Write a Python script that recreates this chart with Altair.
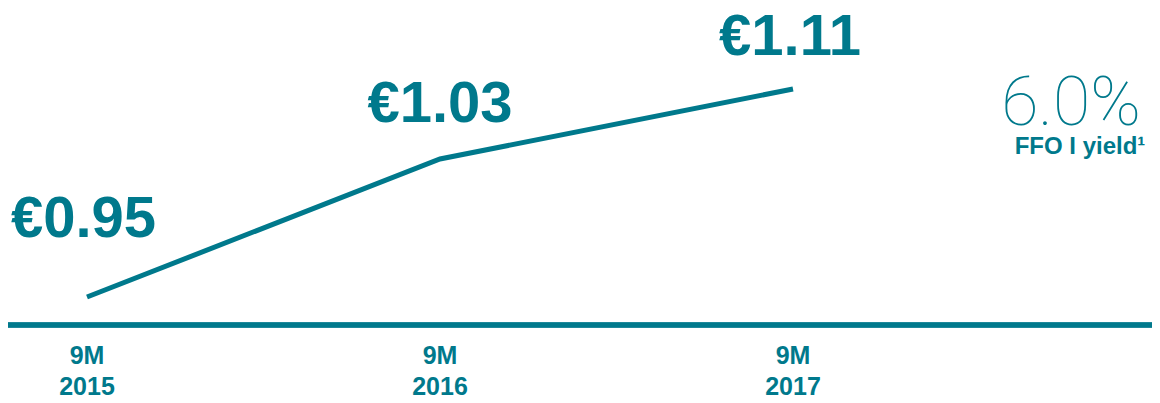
import altair as alt
import pandas as pd

periods = ["9M 2015", "9M 2016", "9M 2017"]
period_lines = [["9M", "2015"], ["9M", "2016"], ["9M", "2017"]]
ffo = [0.95, 1.03, 1.11]
value_labels = ["€0.95", "€1.03", "€1.11"]
yield_value = "6.0%"
yield_label = "FFO I yield¹"

TEAL = "#00798c"

df = pd.DataFrame({
    "idx": list(range(len(periods))),
    "period": periods,
    "lines": period_lines,
    "ffo": ffo,
    "label": value_labels,
})

x = alt.X("idx:Q", scale=alt.Scale(domain=[-79 / 353, (1144 - 79) / 353], zero=False, nice=False), axis=None)
y = alt.Y("ffo:Q", scale=alt.Scale(domain=[0.95, 1.03, 1.11], range=[289, 151, 81], zero=False, nice=False), axis=None)

base = alt.Chart(df)

line = base.mark_line(color=TEAL, strokeWidth=5, strokeCap="butt").encode(x=x, y=y)

baseline = base.mark_rule(color=TEAL, strokeWidth=5).encode(
    x=alt.value(-8), x2=alt.value(1147), y=alt.value(317)
)

label_offsets = [(-3.5, -60), (0, -37), (-3, -34)]
value_text_layers = []
for i, (dx, dy) in enumerate(label_offsets):
    value_text_layers.append(
        base.transform_filter(alt.datum.idx == i).mark_text(
            font="Liberation Sans", fontWeight="bold", fontSize=58, color=TEAL,
            align="center", baseline="alphabetic", dx=dx, dy=dy,
        ).encode(x=x, y=y, text="label:N")
    )

period_text = base.mark_text(
    font="Liberation Sans", fontWeight="bold", fontSize=25, color=TEAL,
    align="center", baseline="alphabetic", lineHeight=31,
).encode(x=x, y=alt.value(356), text="lines")

yield_val = alt.Chart(pd.DataFrame({"t": [yield_value]})).mark_text(
    font="Roboto", fontWeight=100, fontSize=68, color=TEAL,
    align="center", baseline="alphabetic",
).encode(x=alt.value(1063), y=alt.value(117), text="t:N")

yield_lab = alt.Chart(pd.DataFrame({"t": [yield_label]})).mark_text(
    font="Liberation Sans", fontWeight="bold", fontSize=24, color=TEAL,
    align="center", baseline="alphabetic",
).encode(x=alt.value(1072), y=alt.value(146), text="t:N")

chart = alt.layer(baseline, line, *value_text_layers, period_text, yield_val, yield_lab).properties(
    width=1144, height=387, padding=0, autosize=alt.AutoSizeParams(type="none"),
    background="white",
).configure_view(stroke=None)

chart.save("out.html", embed_options={"renderer": "svg", "actions": False})
